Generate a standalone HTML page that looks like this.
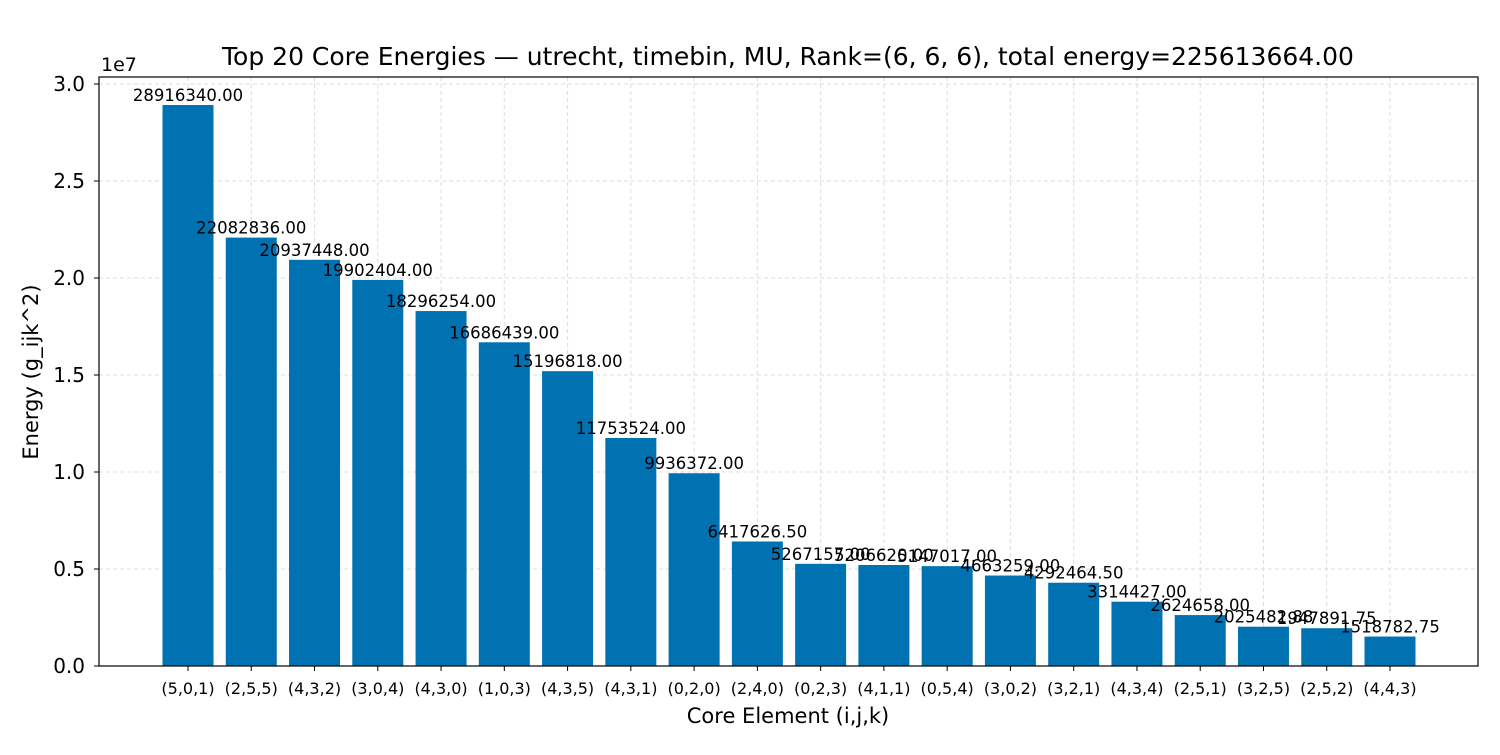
<!DOCTYPE html>
<html><head><meta charset="utf-8"><style>
body{margin:0;background:#fff;font-family:"Liberation Sans","DejaVu Sans",sans-serif}
svg text{font-family:"DejaVu Sans","Liberation Sans",sans-serif}
</style></head><body>
<svg id="chartsvg" width="1500" height="750" xmlns="http://www.w3.org/2000/svg"></svg>
<script>
const categories=["(5,0,1)","(2,5,5)","(4,3,2)","(3,0,4)","(4,3,0)","(1,0,3)","(4,3,5)","(4,3,1)","(0,2,0)","(2,4,0)","(0,2,3)","(4,1,1)","(0,5,4)","(3,0,2)","(3,2,1)","(4,3,4)","(2,5,1)","(3,2,5)","(2,5,2)","(4,4,3)"];
const values=[28916340.00,22082836.00,20937448.00,19902404.00,18296254.00,16686439.00,15196818.00,11753524.00,9936372.00,6417626.50,5267157.00,5206620.00,5147017.00,4663259.00,4292464.50,3314427.00,2624658.00,2025482.88,1947891.75,1518782.75];
const yTicks=[0,0.5,1.0,1.5,2.0,2.5,3.0];
const L=99,R=1478,T=77,B=666;
const ns="http://www.w3.org/2000/svg",svg=document.getElementById('chartsvg');
function y(v){return B-v/3e7*582;}
function x(i){return 188+i*(1390-188)/19;}
function add(t,a,txt){const e=document.createElementNS(ns,t);for(const k in a)e.setAttribute(k,a[k]);if(txt!==undefined)e.textContent=txt;svg.appendChild(e);return e;}
const grid=add('g',{});
categories.forEach((cat,i)=>{const l=document.createElementNS(ns,'line');l.setAttribute('x1',x(i));l.setAttribute('x2',x(i));l.setAttribute('y1',T);l.setAttribute('y2',B);l.setAttribute('stroke','#ddd');l.setAttribute('stroke-dasharray','4,3');grid.appendChild(l);});
yTicks.forEach(t=>{const l=document.createElementNS(ns,'line');l.setAttribute('x1',L);l.setAttribute('x2',R);l.setAttribute('y1',y(t*1e7));l.setAttribute('y2',y(t*1e7));l.setAttribute('stroke','#ddd');l.setAttribute('stroke-dasharray','4,3');grid.appendChild(l);});
values.forEach((v,i)=>{
 const r=add('rect',{x:x(i)-25.5,y:y(v),width:51,height:B-y(v),fill:'#0072b2'});
 
 
 const t=add('text',{x:x(i),y:y(v)-4,'font-size':'16.5','text-anchor':'middle'},v.toFixed(2));
 
 
 const tk=add('line',{x1:x(i),x2:x(i),y1:B,y2:B+5,stroke:'#000'});
 
 
 const xl=add('text',{x:x(i),y:B+28,'font-size':'16','text-anchor':'middle'},categories[i]);
 
 
});
yTicks.forEach(t=>{
 const tk=add('line',{x1:L-5,x2:L,y1:y(t*1e7),y2:y(t*1e7),stroke:'#000'});
 
 
 const yl=add('text',{x:L-14,y:y(t*1e7)+7,'font-size':'20','text-anchor':'end'},t.toFixed(1));
 
 
});
const fr=add('rect',{x:L,y:T,width:R-L,height:B-T,fill:'none',stroke:'#000','stroke-width':'1.2'});

const ex=add('text',{x:101,y:71,'font-size':'19'},'1e7');

const ti=add('text',{x:788,y:65,'font-size':'25','text-anchor':'middle'},'Top 20 Core Energies — utrecht, timebin, MU, Rank=(6, 6, 6), total energy=225613664.00');

const xt=add('text',{x:788,y:723,'font-size':'21','text-anchor':'middle'},'Core Element (i,j,k)');

const yt=add('text',{x:38,y:372,'font-size':'21','text-anchor':'middle',transform:'rotate(-90 38 372)'},'Energy (g_ijk^2)');

</script>
</body></html>
